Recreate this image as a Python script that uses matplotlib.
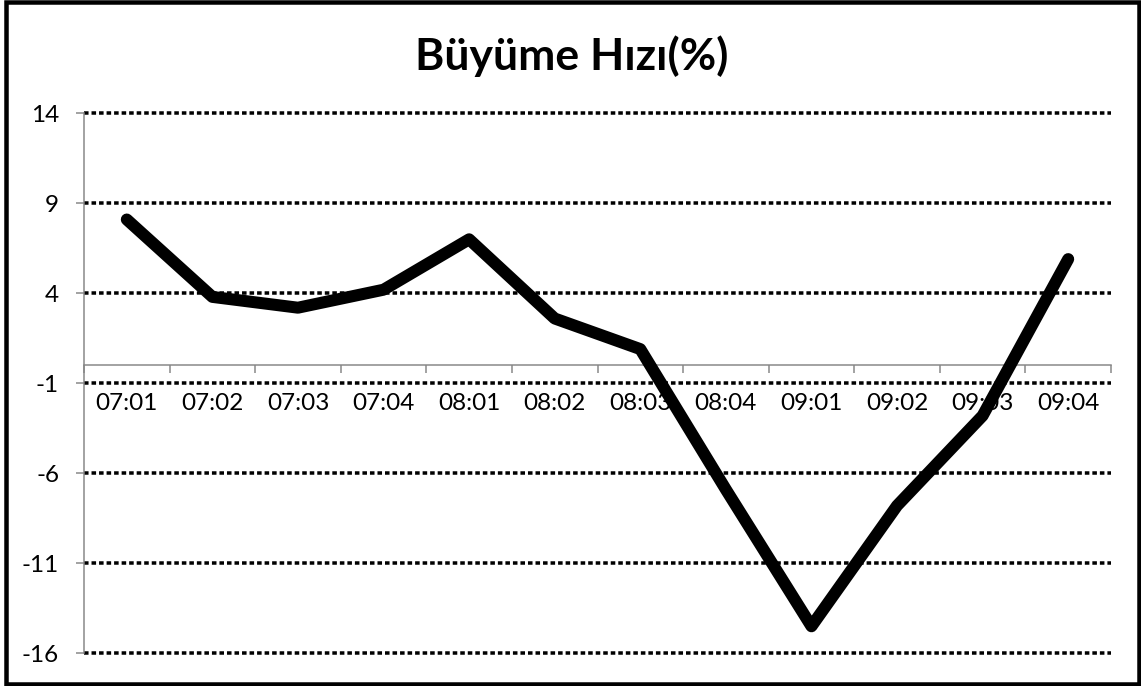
import numpy as np
import matplotlib
matplotlib.use("Agg")
import matplotlib.pyplot as plt
from matplotlib.patches import Rectangle

categories = ["07:01", "07:02", "07:03", "07:04", "08:01", "08:02",
              "08:03", "08:04", "09:01", "09:02", "09:03", "09:04"]
growth = [8.1, 3.8, 3.2, 4.2, 7.0, 2.6, 0.9, -6.9, -14.5, -7.8, -2.8, 5.9]
yticks = [-16, -11, -6, -1, 4, 9, 14]
title = "Büyüme Hızı(%)"

W, H, DPI = 1141, 686, 100
fig = plt.figure(figsize=(W / DPI, H / DPI), dpi=DPI)
fig.patch.set_facecolor("white")

px = 72.0 / DPI  # points per pixel

left, right, top, bottom = 84, 1111, 113.3, 653.3
ax = fig.add_axes([left / W, 1 - bottom / H, (right - left) / W, (bottom - top) / H])

font = "Lato"
gray = "#868686"

x = np.arange(len(categories))

# gridlines
for yv in yticks:
    ax.axhline(yv, color="black", lw=3.5 * px, linestyle=(0, (1.3, 0.85)),
               clip_on=False, zorder=1)

ax.plot(x, growth, color="black", lw=12 * px, solid_capstyle="round",
        solid_joinstyle="round", zorder=3)

ax.set_xlim(-0.5, len(categories) - 0.5)
ax.set_ylim(-16, 14)

for s in ["top", "right"]:
    ax.spines[s].set_visible(False)
ax.spines["bottom"].set_position(("data", 0))
for s in ["bottom", "left"]:
    ax.spines[s].set_color(gray)
    ax.spines[s].set_linewidth(1.5 * px)
    ax.spines[s].set_zorder(2)

ax.set_yticks(yticks)
ax.set_yticklabels([str(v) for v in yticks], fontsize=17.5, family=font)
ax.tick_params(axis="y", length=8 * px, width=1.5 * px, color=gray, pad=17 * px,
               direction="out")

ax.set_xticks(np.arange(-0.5, len(categories), 1.0))
ax.set_xticklabels([""] * (len(categories) + 1))
ax.tick_params(axis="x", which="major", length=8 * px, width=1.5 * px, color=gray,
               direction="out")
ax.set_xticks(x, minor=True)
ax.set_xticklabels(categories, minor=True, fontsize=17.5, family=font)
ax.tick_params(axis="x", which="minor", length=0, pad=28 * px)

fig.text(571.5 / W, 1 - 56 / H, title, ha="center", va="center",
         fontsize=32, fontweight="bold", family=font)

fig.patches.append(Rectangle((5.5 / W, 1 - 684 / H), (1139 - 5.5) / W, (684 - 1.5) / H,
                             transform=fig.transFigure, fill=False,
                             edgecolor="black", lw=4.5 * px))

fig.savefig("out.png", dpi=DPI)
